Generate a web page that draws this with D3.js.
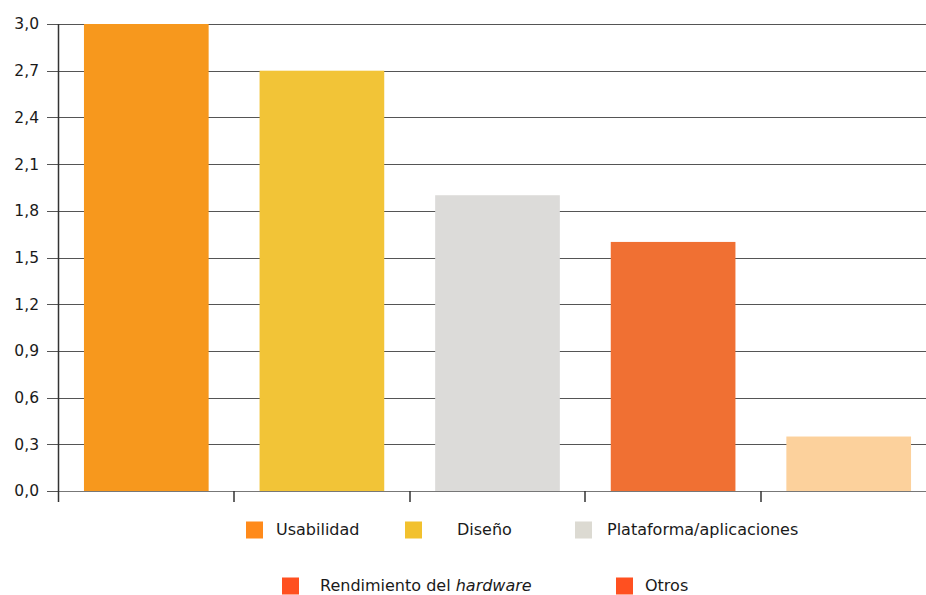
<!DOCTYPE html>
<html>
<head>
<meta charset="utf-8">
<script src="https://cdnjs.cloudflare.com/ajax/libs/d3/7.8.5/d3.min.js"></script>
<style>
  body { margin: 0; background: #fff; }
  text { font-family: "DejaVu Sans", Verdana, sans-serif; fill: #1a1a1a; }
</style>
</head>
<body>
<script>
// datos
var categorias = ["Usabilidad", "Diseño", "Plataforma/aplicaciones", "Rendimiento del hardware", "Otros"];
var valores = [3.0, 2.7, 1.9, 1.6, 0.35];
var coloresBarras = ["#F7981D", "#F2C437", "#DCDBD9", "#F07033", "#FCD19C"];
var coloresLeyenda = ["#FF8A1A", "#F2C12E", "#DCDAD2", "#FF5020", "#FF5020"];
var ticksY = [0, 0.3, 0.6, 0.9, 1.2, 1.5, 1.8, 2.1, 2.4, 2.7, 3.0];

var svg = d3.select("body")
    .append("svg")
    .attr("width", 926)
    .attr("height", 595);

var x = d3.scaleBand()
    .domain(categorias)
    .range([58.5, 936.5])
    .paddingInner(0.29)
    .paddingOuter(0.145);

var y = d3.scaleLinear()
    .domain([0, 3])
    .range([491, 24]);

// lineas de cuadricula
svg.selectAll("line.grid")
    .data(ticksY)
    .enter()
    .append("line")
    .attr("class", "grid")
    .attr("x1", 47)
    .attr("x2", 926)
    .attr("y1", function(d) { return Math.round(y(d)) + 0.5; })
    .attr("y2", function(d) { return Math.round(y(d)) + 0.5; })
    .attr("stroke", "#555")
    .attr("stroke-width", 1);

// etiquetas eje Y
svg.selectAll("text.ylab")
    .data(ticksY)
    .enter()
    .append("text")
    .attr("class", "ylab")
    .attr("x", 39)
    .attr("y", function(d) { return y(d); })
    .attr("dy", "0.35em")
    .attr("text-anchor", "end")
    .style("font-size", "15.5px")
    .text(function(d) { return d3.format(".1f")(d).replace(".", ","); });

// barras
svg.selectAll("rect.bar")
    .data(valores)
    .enter()
    .append("rect")
    .attr("class", "bar")
    .attr("x", function(d, i) { return x(categorias[i]); })
    .attr("width", x.bandwidth())
    .attr("y", function(d) { return y(d); })
    .attr("height", function(d) { return y(0) - y(d); })
    .attr("fill", function(d, i) { return coloresBarras[i]; });

// linea de base
svg.append("line")
    .attr("x1", 58).attr("x2", 926)
    .attr("y1", 491.5).attr("y2", 491.5)
    .attr("stroke", "#777");

// eje Y
svg.append("line")
    .attr("x1", 58.5).attr("x2", 58.5)
    .attr("y1", 24).attr("y2", 502)
    .attr("stroke", "#333")
    .attr("stroke-width", 1.5);

// marcas entre categorias
svg.selectAll("line.xtick")
    .data(categorias.slice(1))
    .enter()
    .append("line")
    .attr("class", "xtick")
    .attr("x1", function(d) { return Math.round(x(d) - x.step() * x.paddingInner() / 2); })
    .attr("x2", function(d) { return Math.round(x(d) - x.step() * x.paddingInner() / 2); })
    .attr("y1", 491)
    .attr("y2", 502)
    .attr("stroke", "#333")
    .attr("stroke-width", 1.5);

// leyenda
var leyenda = [
    {x: 246, y: 530, i: 0, dx: 30},
    {x: 405, y: 530, i: 1, dx: 52},
    {x: 575, y: 530, i: 2, dx: 32},
    {x: 282, y: 586, i: 3, dx: 38},
    {x: 616, y: 586, i: 4, dx: 29}
];

var items = svg.selectAll("g.leg")
    .data(leyenda)
    .enter()
    .append("g")
    .attr("class", "leg")
    .attr("transform", function(d) { return "translate(" + d.x + "," + d.y + ")"; });

items.append("rect")
    .attr("x", 0)
    .attr("y", -8.5)
    .attr("width", 17)
    .attr("height", 17)
    .attr("fill", function(d) { return coloresLeyenda[d.i]; });

items.append("text")
    .attr("x", function(d) { return d.dx; })
    .attr("y", -1)
    .attr("dy", "0.35em")
    .style("font-size", "16px")
    .each(function(d) {
        var t = d3.select(this);
        if (d.i == 3) {
            t.append("tspan").text("Rendimiento del ");
            t.append("tspan").style("font-style", "italic").text("hardware");
        } else {
            t.text(categorias[d.i]);
        }
    });
</script>
</body>
</html>
